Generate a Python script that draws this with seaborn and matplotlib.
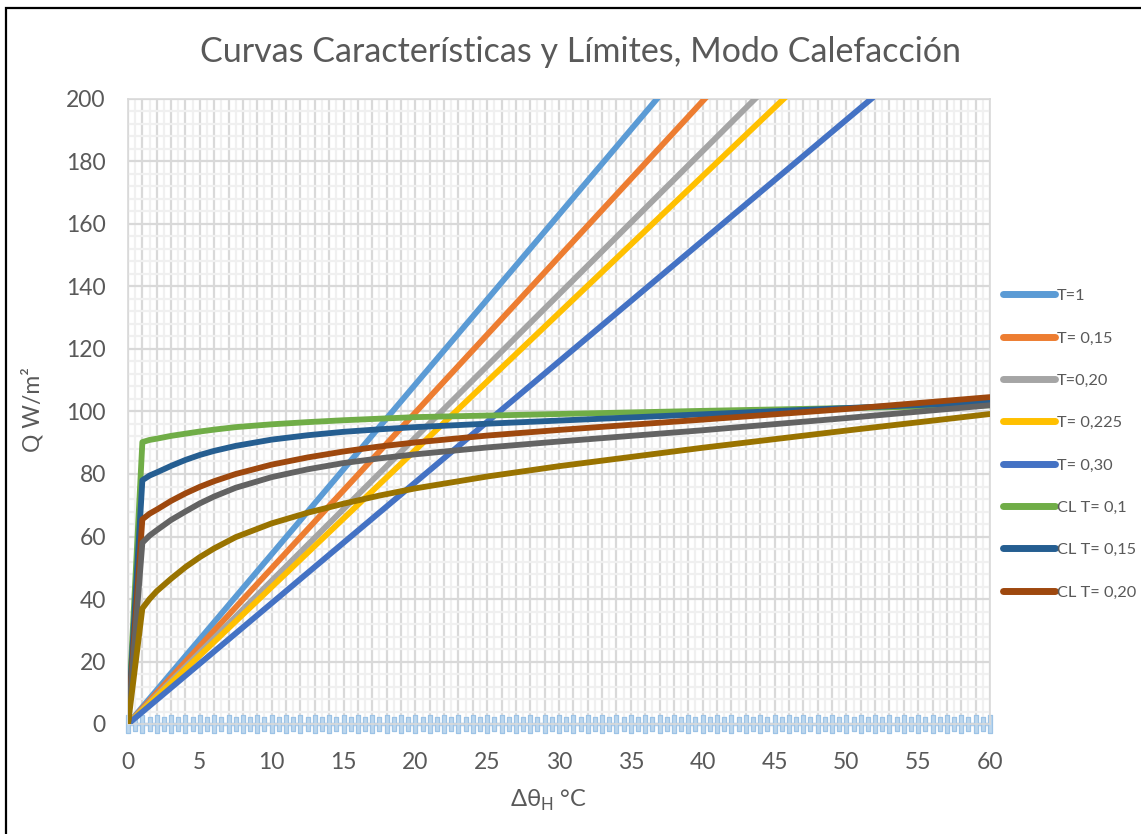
import numpy as np
import pandas as pd
import matplotlib
matplotlib.use("Agg")
import matplotlib.pyplot as plt
from matplotlib.ticker import MultipleLocator, FuncFormatter
from matplotlib.patches import Rectangle
import seaborn as sns

# --- data ---
# straight characteristic lines: value reached at the right end of the (extended) line
line_names = ["T=1", "T= 0,15", "T=0,20", "T= 0,225", "T= 0,30"]
line_colors = ["#5b9bd5", "#ed7d31", "#a5a5a5", "#ffc000", "#4472c4"]
line_x = [0, 60]
line_T1 = [0, 326]
line_T015 = [0, 299]
line_T020 = [0, 275]
line_T0225 = [0, 263]
line_T030 = [0, 232]

# limit curves (CL)
cl_names = ["CL T= 0,1", "CL T= 0,15", "CL T= 0,20", "CL T= 0,225", "CL T= 0,30"]
cl_colors = ["#70ad47", "#255e91", "#9e480e", "#636363", "#997300"]
cl_in_legend = [True, True, True, False, False]
cl_x = [0, 1, 1.5, 2, 3, 4, 5, 6, 7.5, 10, 12.5, 15, 17.5, 20, 25, 30, 40, 50, 60]
cl_T01 = [0, 90.2, 90.9, 91.3, 92.2, 92.9, 93.6, 94.2, 95.0, 95.9, 96.6, 97.2, 97.7, 98.2,
          98.7, 99.2, 100.2, 101.1, 102.0]
cl_T015 = [0, 78.0, 79.5, 80.5, 82.6, 84.5, 86.1, 87.4, 89.0, 91.0, 92.4, 93.5, 94.3, 95.0,
           96.1, 97.1, 99.1, 101.1, 103.0]
cl_T020 = [0, 65.5, 67.3, 68.6, 71.4, 73.8, 75.9, 77.7, 80.0, 83.0, 85.3, 87.2, 88.8, 90.1,
           92.3, 94.1, 97.4, 100.8, 104.6]
cl_T0225 = [0, 58.0, 60.3, 62.0, 65.3, 68.0, 70.6, 72.8, 75.6, 79.0, 81.5, 83.5, 85.0, 86.3,
            88.5, 90.4, 94.0, 97.9, 102.0]
cl_T030 = [0, 37.0, 40.0, 42.5, 46.5, 50.2, 53.4, 56.2, 59.8, 64.2, 67.6, 70.5, 73.1, 75.4,
           79.2, 82.5, 88.4, 93.9, 99.2]

# zero series with markers along the x axis
zero_x_whole = list(range(0, 61))
zero_x_half = [v + 0.5 for v in range(0, 60)]

title = "Curvas Características y Límites, Modo Calefacción"
x_label = r"Δθ$_\mathregular{H}$ °C"
y_label = "Q W/m²"

# --- style ---
sns.set_theme(style="white")
plt.rcParams["font.family"] = ["Lato", "DejaVu Sans"]
plt.rcParams["mathtext.fontset"] = "custom"
plt.rcParams["mathtext.rm"] = "Lato"
text_color = "#595959"

fig = plt.figure(figsize=(11.41, 8.34), dpi=100)
ax = fig.add_axes([128 / 1141, 110 / 834, 862 / 1141, 625 / 834])

# zero series
tall = [(-1, -4.5), (1, -4.5), (1, 4.5), (-1, 4.5), (-1, -4.5)]
short = [(-1, -3.2), (1, -3.2), (1, 3.2), (-1, 3.2), (-1, -3.2)]
ax.plot([0, 60], [0, 0], color="#9dc3e6", lw=2.5, alpha=0.8, clip_on=False, zorder=2)
ax.plot(zero_x_whole, [0] * len(zero_x_whole), ls="none", marker=tall, ms=13,
        mfc="#bdd7ee", mec="#9dc3e6", mew=0.9, clip_on=False, zorder=2)
ax.plot(zero_x_half, [0] * len(zero_x_half), ls="none", marker=short, ms=9.5,
        mfc="#bdd7ee", mec="#9dc3e6", mew=0.9, clip_on=False, zorder=2)

handles = []
for name, color, ys in zip(line_names, line_colors,
                           [line_T1, line_T015, line_T020, line_T0225, line_T030]):
    df = pd.DataFrame({"x": line_x, "y": ys})
    sns.lineplot(data=df, x="x", y="y", color=color, lw=4.2, ax=ax, sort=False,
                 solid_capstyle="round", zorder=3)
    handles.append((ax.lines[-1], name))

for name, color, ys, show in zip(cl_names, cl_colors,
                                 [cl_T01, cl_T015, cl_T020, cl_T0225, cl_T030], cl_in_legend):
    df = pd.DataFrame({"x": cl_x, "y": ys})
    sns.lineplot(data=df, x="x", y="y", color=color, lw=4.2, ax=ax, sort=False,
                 solid_capstyle="round", solid_joinstyle="round", zorder=4)
    if show:
        handles.append((ax.lines[-1], name))

ax.set_xlim(0, 60)
ax.set_ylim(0, 200)

# grid
ax.xaxis.set_major_locator(MultipleLocator(1))
ax.xaxis.set_minor_locator(MultipleLocator(0.5))
ax.yaxis.set_major_locator(MultipleLocator(20))
ax.yaxis.set_minor_locator(MultipleLocator(4))
ax.xaxis.set_major_formatter(FuncFormatter(lambda v, p: f"{v:.0f}" if round(v) % 5 == 0 else ""))
ax.grid(which="major", color="#d9d9d9", lw=1.6)
ax.grid(which="minor", color="#f0f0f0", lw=1.6)
ax.set_axisbelow(True)
ax.tick_params(which="both", length=0, labelsize=16.5, labelcolor=text_color)
ax.tick_params(axis="x", pad=20)
ax.tick_params(axis="y", pad=16)
for s in ax.spines.values():
    s.set_color("#d9d9d9")
    s.set_linewidth(1.2)

ax.set_xlabel("")
ax.set_ylabel("")
fig.text(548 / 1141, 1 - 800 / 834, x_label, ha="center", va="center", fontsize=17, color=text_color)
fig.text(32 / 1141, 1 - 410 / 834, y_label, ha="center", va="center", rotation=90,
         fontsize=16.5, color=text_color)
fig.text(580 / 1141, 1 - 52 / 834, title, ha="center", va="center", fontsize=24.5, color=text_color)

leg = fig.legend([h for h, _ in handles], [n for _, n in handles],
                 loc="center left", bbox_to_anchor=(1003 / 1141, 1 - 444 / 834),
                 frameon=False, fontsize=11.8, handlelength=3.2, handletextpad=0.1,
                 labelspacing=1.7, borderpad=0, borderaxespad=0)
for t in leg.get_texts():
    t.set_color(text_color)
for h in leg.legend_handles:
    h.set_linewidth(5)
    h.set_solid_capstyle("round")

# outer chart frame
fig.patches.append(Rectangle((6 / 1141, -0.05), 1.2, 1 - 8 / 834 + 0.05, transform=fig.transFigure,
                             fill=False, ec="black", lw=1.6))

fig.savefig("out.png", dpi=100)
